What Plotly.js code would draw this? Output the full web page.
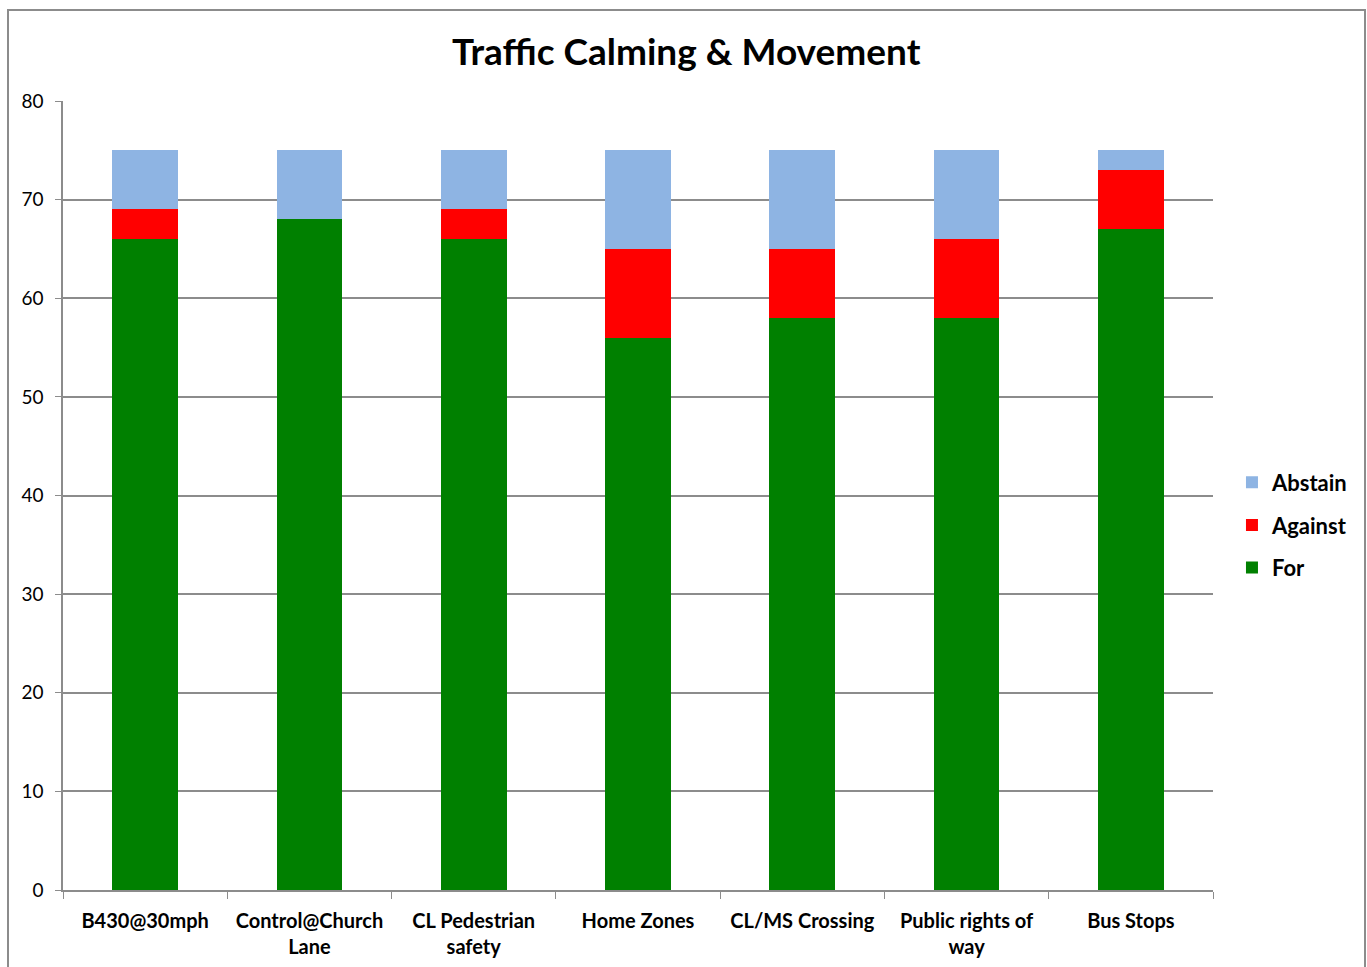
<!DOCTYPE html>
<html>
<head>
<meta charset="utf-8">
<script src="https://cdn.plot.ly/plotly-3.0.1.min.js"></script>
<style>
  body { margin: 0; background: #fff; }
  #frame { position: absolute; left: 7px; top: 9px; width: 1359px; height: 970px; border: 2px solid #8c8c8c; box-sizing: border-box; }
  #chart { position: absolute; left: 0; top: 0; width: 1367px; height: 967px; }
</style>
</head>
<body>
<div id="frame"></div>
<div id="chart"></div>
<script>
var categories = ["B430@30mph", "Control@Church<br>Lane", "CL Pedestrian<br>safety", "Home Zones", "CL/MS Crossing", "Public rights of<br>way", "Bus Stops"];
var forVotes = [66, 68, 66, 56, 58, 58, 67];
var againstVotes = [3, 0, 3, 9, 7, 8, 6];
var abstainVotes = [6, 7, 6, 10, 10, 9, 2];

var fontFamily = 'Lato, "Open Sans", sans-serif';

var data = [
    { x: categories, y: forVotes, name: '<b>For</b>', type: 'bar', legendrank: 3, legendgroup: 'for',
      marker: { color: '#008000' }, hoverinfo: 'y+name' },
    { x: categories, y: againstVotes, name: '<b>Against</b>', type: 'bar', legendrank: 2, legendgroup: 'against',
      marker: { color: '#FF0000' }, hoverinfo: 'y+name' },
    { x: categories, y: abstainVotes, name: '<b>Abstain</b>', type: 'bar', legendrank: 1, legendgroup: 'abstain',
      marker: { color: '#8EB4E3' }, hoverinfo: 'y+name' }
];

var layout = {
    width: 1367,
    height: 967,
    paper_bgcolor: 'rgba(0,0,0,0)',
    plot_bgcolor: 'rgba(0,0,0,0)',
    margin: { l: 63, r: 154, t: 101, b: 77 },
    barmode: 'stack',
    bargap: 0.6,
    font: { family: fontFamily, color: '#000', size: 18 },
    title: {
        text: '<b>Traffic Calming &amp; Movement</b>',
        font: { size: 37, family: fontFamily, color: '#000' },
        x: 0.502, xref: 'container', xanchor: 'center',
        y: 1 - 52 / 967, yref: 'container', yanchor: 'middle'
    },
    xaxis: {
        type: 'category',
        tickson: 'boundaries',
        ticks: 'outside',
        ticklen: 7,
        tickcolor: '#8c8c8c',
        showline: true,
        linecolor: '#8c8c8c',
        linewidth: 1.5,
        showgrid: false,
        ticklabelstandoff: 12,
        tickfont: { size: 20, family: fontFamily },
        tickprefix: '<b>', ticksuffix: '</b>'
    },
    yaxis: {
        range: [0, 80],
        dtick: 10,
        ticks: 'outside',
        ticklen: 6,
        tickcolor: '#8c8c8c',
        showline: true,
        linecolor: '#8c8c8c',
        linewidth: 1.5,
        gridcolor: '#8c8c8c',
        gridwidth: 1.5,
        zeroline: false,
        ticklabelstandoff: 8,
        tickfont: { size: 19, family: fontFamily }
    },
    legend: {
        x: 1.0165, xanchor: 'left',
        y: 0.4626, yanchor: 'middle',
        traceorder: 'grouped',
        tracegroupgap: 11,
        font: { size: 22, family: fontFamily },
        itemclick: false
    },
    showlegend: true
};

Plotly.newPlot('chart', data, layout, { displayModeBar: false });
</script>
</body>
</html>
